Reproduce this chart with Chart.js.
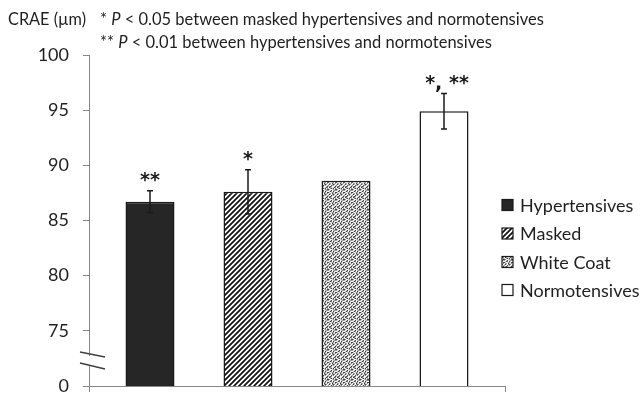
<!DOCTYPE html>
<html>
<head>
<meta charset="utf-8">
<script src="https://cdn.jsdelivr.net/npm/chart.js@4.4.1/dist/chart.umd.min.js"></script>
<style>
  html, body { margin: 0; padding: 0; background: #ffffff; }
  #wrap { width: 644px; height: 396px; }
</style>
</head>
<body>
<div id="wrap"><canvas id="c" width="644" height="396"></canvas></div>
<script>
// ---- data ----
const categories = ['Hypertensives', 'Masked', 'White Coat', 'Normotensives'];
const craeMean = [86.7, 87.6, 88.6, 94.9];
const craeErr = [1.0, 2.0, null, 1.6];
const significance = ['**', '*', '', '*, **'];
const yTickValues = [70, 75, 80, 85, 90, 95, 100];
const yTickLabels = ['0', '75', '80', '85', '90', '95', '100'];
const axisTitle = 'CRAE (\u00b5m)';
const notes = ['* P < 0.05 between masked hypertensives and normotensives',
               '** P < 0.01 between hypertensives and normotensives'];

// ---- styles ----
const FONT = 'Lato, "Open Sans", sans-serif';
const TEXT = '#1f1f1f';
const AXIS = '#868686';

function hatchPattern() {
  const c = document.createElement('canvas');
  c.width = 5; c.height = 5;
  const g = c.getContext('2d');
  g.fillStyle = '#ffffff'; g.fillRect(0, 0, 5, 5);
  g.strokeStyle = '#111111'; g.lineWidth = 1.7;
  g.beginPath();
  g.moveTo(-1, 6); g.lineTo(6, -1);
  g.moveTo(-1, 1); g.lineTo(1, -1);
  g.moveTo(4, 6); g.lineTo(6, 4);
  g.stroke();
  return g.createPattern(c, 'repeat');
}
function noisePattern() {
  const rows = ['20130122','01320310','31012203','02203112','13102320','20031201','12320013','03210132',
                '10231302','32001213'];
  const shades = ['#ffffff', '#cccccc', '#959595', '#404040'];
  const c = document.createElement('canvas');
  c.width = 8; c.height = rows.length;
  const g = c.getContext('2d');
  rows.forEach((r, y) => { for (let x = 0; x < 8; x++) { g.fillStyle = shades[+r[x]]; g.fillRect(x, y, 1, 1); } });
  return g.createPattern(c, 'repeat');
}
const fills = ['#262626', hatchPattern(), noisePattern(), '#ffffff'];

const datasets = categories.map((name, i) => ({
  label: name,
  data: [craeMean[i]],
  backgroundColor: fills[i],
  borderColor: '#1a1a1a',
  borderWidth: 1.5,
  categoryPercentage: 392 / 416,
  barPercentage: 0.5
}));

const decorPlugin = {
  id: 'decor',
  afterDatasetsDraw(chart) {
    const ctx = chart.ctx;
    const ys = chart.scales.y;
    ctx.save();
    categories.forEach((name, i) => {
      const bar = chart.getDatasetMeta(i).data[0];
      const x = bar.x;
      let top = ys.getPixelForValue(craeMean[i]);
      if (craeErr[i] != null) {
        const yt = ys.getPixelForValue(craeMean[i] + craeErr[i]);
        const yb = ys.getPixelForValue(craeMean[i] - craeErr[i]);
        ctx.strokeStyle = '#1a1a1a';
        ctx.lineWidth = 1.5;
        ctx.beginPath();
        ctx.moveTo(x, yt); ctx.lineTo(x, yb);
        ctx.moveTo(x - 3, yt); ctx.lineTo(x + 3, yt);
        ctx.moveTo(x - 3, yb); ctx.lineTo(x + 3, yb);
        ctx.stroke();
        top = yt;
      }
      if (significance[i]) {
        ctx.fillStyle = '#1a1a1a';
        ctx.font = 'bold 19px "DejaVu Sans", sans-serif';
        ctx.textAlign = 'center';
        ctx.textBaseline = 'alphabetic';
        ctx.fillText(significance[i], x + (significance[i].length > 2 ? 3 : 0), top - 5);
      }
    });
    ctx.restore();
  },
  afterDraw(chart) {
    const ctx = chart.ctx;
    const area = chart.chartArea;
    ctx.save();
    // axis break
    const x0 = area.left;
    ctx.fillStyle = '#ffffff';
    ctx.fillRect(x0 - 2, 356, 4, 9);
    ctx.strokeStyle = '#404040';
    ctx.lineWidth = 1.3;
    ctx.beginPath();
    ctx.moveTo(x0 - 9, 352); ctx.lineTo(x0 + 16, 357);
    ctx.moveTo(x0 - 9, 363); ctx.lineTo(x0 + 16, 369);
    ctx.stroke();
    // title & notes
    ctx.fillStyle = TEXT;
    ctx.textBaseline = 'middle';
    ctx.textAlign = 'left';
    ctx.font = '16.3px ' + FONT;
    ctx.fillText(axisTitle, 8, 20);
    const sz = '16.5px ';
    const drawNote = (txt, y) => {
      const m = txt.match(/^(\*+ )(P)( .*)$/);
      let x = 100;
      ctx.font = sz + FONT;
      ctx.fillText(m[1], x, y); x += ctx.measureText(m[1]).width;
      ctx.font = 'italic ' + sz + FONT;
      ctx.fillText(m[2], x, y); x += ctx.measureText(m[2]).width;
      ctx.font = sz + FONT;
      ctx.fillText(m[3], x, y);
    };
    drawNote(notes[0], 20);
    drawNote(notes[1], 43);
    // legend
    const ly = [205, 233.5, 262, 290];
    categories.forEach((name, i) => {
      const y = ly[i];
      ctx.fillStyle = fills[i];
      ctx.fillRect(502, y - 5.5, 11, 11);
      ctx.strokeStyle = '#1a1a1a';
      ctx.lineWidth = 1.2;
      ctx.strokeRect(502, y - 5.5, 11, 11);
      ctx.fillStyle = TEXT;
      ctx.font = '18px ' + FONT;
      ctx.textBaseline = 'middle';
      ctx.fillText(name, 520, y + 1);
    });
    ctx.restore();
  }
};

new Chart(document.getElementById('c'), {
  type: 'bar',
  data: { labels: ['CRAE'], datasets },
  options: {
    responsive: false,
    animation: false,
    events: [],
    layout: { padding: { top: 55, right: 139, bottom: 0, left: 0 } },
    plugins: { legend: { display: false }, tooltip: { enabled: false } },
    scales: {
      x: {
        grid: { display: true, drawOnChartArea: false, tickLength: 6, color: AXIS, lineWidth: 1 },
        border: { color: AXIS, width: 1 },
        ticks: { display: false },
        afterFit(s) { s.height = 10; s.paddingLeft = 0; s.paddingRight = 0; }
      },
      y: {
        min: 70, max: 100,
        afterBuildTicks(s) { s.ticks = yTickValues.map(v => ({ value: v })); },
        grid: { display: true, drawOnChartArea: false, tickLength: 6, color: AXIS, lineWidth: 1 },
        border: { color: AXIS, width: 1 },
        ticks: {
          padding: 14,
          color: TEXT,
          font: { family: FONT, size: 18 },
          callback: (v) => yTickLabels[yTickValues.indexOf(v)]
        },
        afterFit(s) { s.width = 89; s.paddingTop = 0; s.paddingBottom = 0; }
      }
    }
  },
  plugins: [decorPlugin]
});
</script>
</body>
</html>
